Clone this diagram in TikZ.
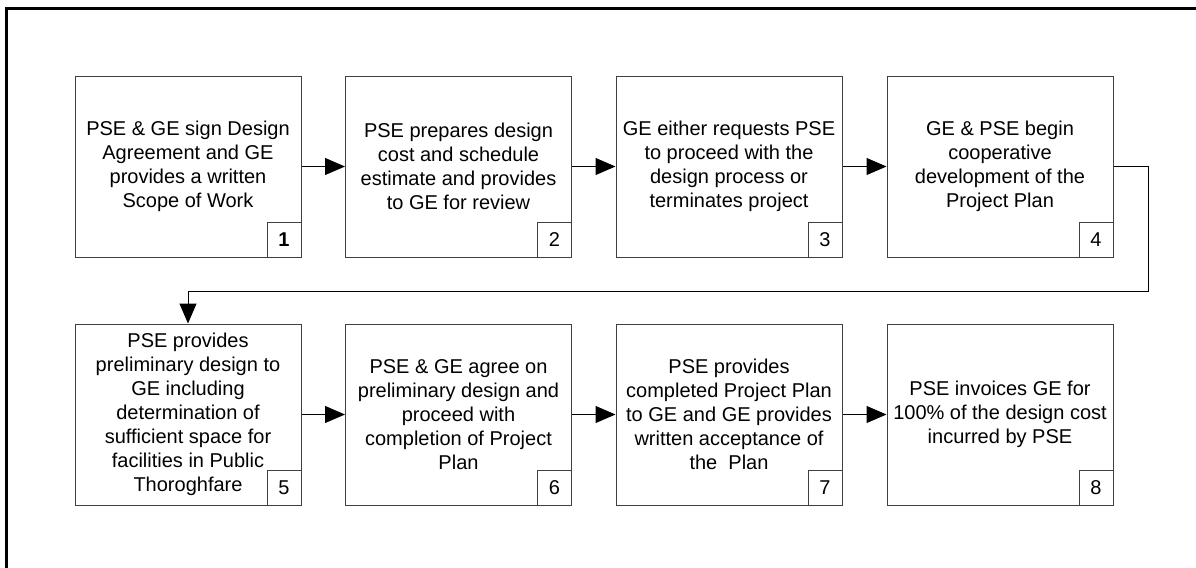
\documentclass[tikz,border=0pt]{standalone}
\usepackage{fontspec}
\setmainfont{Liberation Sans}
\usetikzlibrary{arrows.meta,positioning}
\begin{document}
\begin{tikzpicture}[x=0.5pt,y=-0.5pt,
  stepbox/.style={draw=black!75,line width=0.5pt,minimum width=113pt,minimum height=90.5pt,
    inner sep=0pt,align=center,font=\fontsize{10pt}{12pt}\selectfont},
  numbox/.style={draw=black!75,line width=0.5pt,minimum width=17pt,minimum height=17.5pt,
    inner sep=0pt,anchor=south east,font=\fontsize{10pt}{12pt}\selectfont},
  flow/.style={draw=black,line width=0.5pt,-{Triangle[length=10pt,width=8.5pt]}}]
\useasboundingbox (0,0) rectangle (1196,568);
% outer frame (top and left edges)
\draw[line width=1.5pt] (6,568) -- (6,8) -- (1196,8);

% first row
\node[stepbox] (s1) at (188,166.5) {PSE \& GE sign Design\\Agreement and GE\\provides a written\\Scope of Work};
\node[stepbox] (s2) at (458.5,166.5) {PSE prepares design\\cost and schedule\\estimate and provides\\to GE for review};
\node[stepbox] (s3) at (729,166.5) {GE either requests PSE\\to proceed with the\\design process or\\terminates project};
\node[stepbox] (s4) at (1000,166.5) {GE \& PSE begin\\cooperative\\development of the\\Project Plan};

% second row
\node[stepbox] (s5) at (188,414.5) {PSE provides\\preliminary design to\\GE including\\determination of\\sufficient space for\\facilities in Public\\Thoroghfare};
\node[stepbox] (s6) at (458.5,414.5) {PSE \& GE agree on\\preliminary design and\\proceed with\\completion of Project\\Plan};
\node[stepbox] (s7) at (729,414.5) {PSE provides\\completed Project Plan\\to GE and GE provides\\written acceptance of\\the\ \ Plan};
\node[stepbox] (s8) at (1000,414.5) {PSE invoices GE for\\100\% of the design cost\\incurred by PSE};

% step numbers
\node[numbox,font=\fontsize{10pt}{12pt}\selectfont\bfseries] (n1) at (s1.south east) {1};
\node[numbox] (n2) at (s2.south east) {2};
\node[numbox] (n3) at (s3.south east) {3};
\node[numbox] (n4) at (s4.south east) {4};
\node[numbox] (n5) at (s5.south east) {5};
\node[numbox] (n6) at (s6.south east) {6};
\node[numbox] (n7) at (s7.south east) {7};
\node[numbox] (n8) at (s8.south east) {8};

% connectors
\draw[flow] (s1) -- (s2);
\draw[flow] (s2) -- (s3);
\draw[flow] (s3) -- (s4);
\coordinate (r1) at (1148,166.5);
\coordinate (r2) at (1148,291);
\coordinate (r3) at (188,291);
\draw[flow] (s4.east) -- (r1) -- (r2) -- (r3) -- (s5.north);
\draw[flow] (s5) -- (s6);
\draw[flow] (s6) -- (s7);
\draw[flow] (s7) -- (s8);
\end{tikzpicture}
\end{document}
